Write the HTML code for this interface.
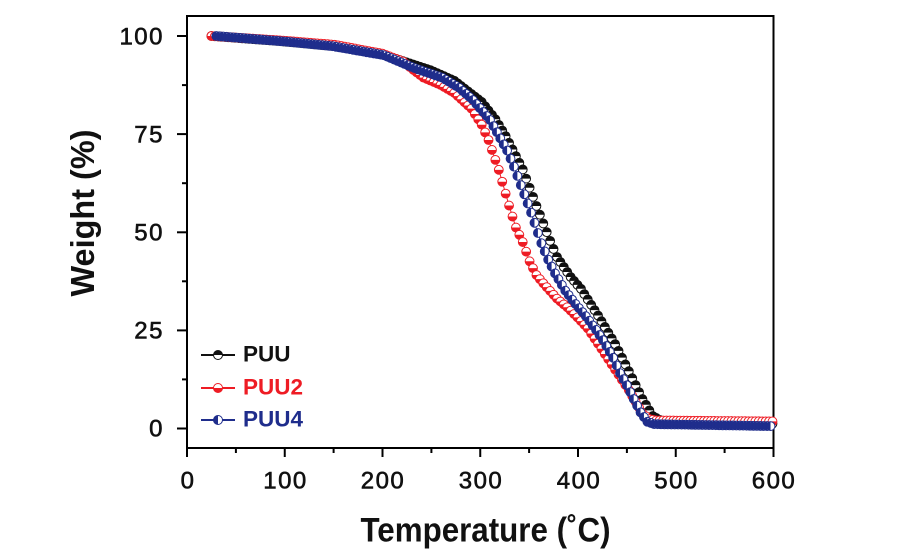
<!DOCTYPE html>
<html>
<head>
<meta charset="utf-8">
<style>
html,body{margin:0;padding:0;background:#fff;}
svg{display:block;}
text{font-family:"Liberation Sans",Arial,sans-serif;}
</style>
</head>
<body>
<svg width="900" height="550" viewBox="0 0 900 550" xmlns="http://www.w3.org/2000/svg">
<defs>
  <marker id="m0" markerWidth="10" markerHeight="10" refX="5" refY="5" markerUnits="userSpaceOnUse" overflow="visible">
    <circle cx="5" cy="5" r="4.4" fill="#fff" stroke="#111" stroke-width="1"/>
    <path d="M0.6 5 A4.4 4.4 0 0 1 9.4 5 Z" fill="#111"/>
  </marker>
  <marker id="m1" markerWidth="10" markerHeight="10" refX="5" refY="5" markerUnits="userSpaceOnUse" overflow="visible">
    <circle cx="5" cy="5" r="4.4" fill="#fff" stroke="#ee1c24" stroke-width="1"/>
    <path d="M0.6 5 A4.4 4.4 0 0 0 9.4 5 Z" fill="#ee1c24"/>
  </marker>
  <marker id="m2" markerWidth="10" markerHeight="10" refX="5" refY="5" markerUnits="userSpaceOnUse" overflow="visible">
    <circle cx="5" cy="5" r="4.4" fill="#fff" stroke="#1f2d8c" stroke-width="1"/>
    <path d="M5 0.6 A4.4 4.4 0 0 0 5 9.4 Z" fill="#1f2d8c"/>
  </marker>
</defs>

<!-- plot frame -->
<rect x="187" y="16" width="586.5" height="432" fill="none" stroke="#000" stroke-width="2"/>

<!-- y ticks -->
<g stroke="#000" stroke-width="2">
  <line x1="177" y1="36" x2="187" y2="36"/>
  <line x1="177" y1="134.1" x2="187" y2="134.1"/>
  <line x1="177" y1="232.3" x2="187" y2="232.3"/>
  <line x1="177" y1="330.4" x2="187" y2="330.4"/>
  <line x1="177" y1="428.5" x2="187" y2="428.5"/>
  <line x1="182" y1="85.1" x2="187" y2="85.1"/>
  <line x1="182" y1="183.2" x2="187" y2="183.2"/>
  <line x1="182" y1="281.3" x2="187" y2="281.3"/>
  <line x1="182" y1="379.4" x2="187" y2="379.4"/>
</g>
<!-- x ticks -->
<g stroke="#000" stroke-width="2">
  <line x1="187" y1="448" x2="187" y2="457"/>
  <line x1="284.75" y1="448" x2="284.75" y2="457"/>
  <line x1="382.5" y1="448" x2="382.5" y2="457"/>
  <line x1="480.25" y1="448" x2="480.25" y2="457"/>
  <line x1="578" y1="448" x2="578" y2="457"/>
  <line x1="675.75" y1="448" x2="675.75" y2="457"/>
  <line x1="773.5" y1="448" x2="773.5" y2="457"/>
  <line x1="235.9" y1="448" x2="235.9" y2="453"/>
  <line x1="333.6" y1="448" x2="333.6" y2="453"/>
  <line x1="431.4" y1="448" x2="431.4" y2="453"/>
  <line x1="529.1" y1="448" x2="529.1" y2="453"/>
  <line x1="626.9" y1="448" x2="626.9" y2="453"/>
  <line x1="724.6" y1="448" x2="724.6" y2="453"/>
</g>

<!-- y tick labels -->
<g font-size="24" fill="#111" stroke="#111" stroke-width="0.6" text-anchor="end" letter-spacing="1.5">
  <text x="164" y="44.5">100</text>
  <text x="164" y="142.5">75</text>
  <text x="164" y="240.5">50</text>
  <text x="164" y="338.5">25</text>
  <text x="164" y="436.5">0</text>
</g>
<!-- x tick labels -->
<g font-size="24" fill="#111" stroke="#111" stroke-width="0.6" text-anchor="middle" letter-spacing="1.5">
  <text x="188" y="488.5">0</text>
  <text x="285.5" y="488.5">100</text>
  <text x="383" y="488.5">200</text>
  <text x="481" y="488.5">300</text>
  <text x="579" y="488.5">400</text>
  <text x="676.5" y="488.5">500</text>
  <text x="774" y="488.5">600</text>
</g>

<!-- axis titles -->
<text x="360.5" y="541.5" font-size="34" font-weight="bold" fill="#111" textLength="250" lengthAdjust="spacingAndGlyphs">Temperature (˚C)</text>
<text transform="translate(94,213) rotate(-90)" x="0" y="0" text-anchor="middle" font-size="33" font-weight="bold" fill="#111" textLength="167" lengthAdjust="spacingAndGlyphs">Weight (%)</text>

<!-- PUU (black) -->
<path fill="none" stroke="#111" stroke-width="1" marker-start="url(#m0)" marker-mid="url(#m0)" marker-end="url(#m0)" d="M211.44 36 l
3.421 .255 3.421 .255 3.421 .255 3.421 .255 3.421 .255
3.421 .255 3.421 .255 3.421 .255 3.421 .255 3.421 .255
3.421 .255 3.421 .255 3.421 .255 3.421 .255 3.421 .255
3.421 .255 3.421 .255 3.421 .255 3.421 .255 3.421 .255
3.421 .319 3.421 .319 3.421 .319 3.421 .319
3.421 .319 3.421 .319 3.421 .319 3.421 .319
3.421 .319 3.421 .319 3.421 .319 3.421 .319
3.421 .319 3.421 .319 3.421 .319 3.421 .319
3.421 .589 3.421 .589 3.421 .589 3.421 .589 3.421 .589 3.421 .589 3.421 .589
3.421 .589 3.421 .589 3.421 .589 3.421 .589 3.421 .589 3.421 .589 3.421 .589
3.421 1.121 3.421 1.121 3.421 1.121 3.421 1.121 3.421 1.121 3.421 1.121 3.421 1.121
3.421 1.121 3.421 1.121 3.421 1.121 3.421 1.121 3.421 1.121 3.421 1.121 3.421 1.121
3.421 1.514 3.421 1.514 3.421 1.514 3.421 1.514 3.421 1.514 3.421 1.514 3.421 1.514
3.421 2.65 3.421 2.65 3.421 2.65 3.421 2.65 3.421 2.65 3.421 2.65 3.421 2.65 3.421 2.65
3.421 4.32 3.421 4.32 3.421 4.32 3.421 4.32
3.421 5.63 3.421 5.63 3.421 5.63
3.421 6.67 3.421 6.67 3.421 6.67 3.421 6.67 3.421 6.67
3.421 9.13 3.421 9.13 3.421 9.13 3.421 9.13
3.421 8.73 3.421 8.73 3.421 8.73 3.421 8.73
3.421 8.05 3.421 8.05
3.421 5 3.421 5 3.421 5 3.421 5
3.421 3.925 3.421 3.925 3.421 3.925
3.421 5.34 3.421 5.34 3.421 5.34 3.421 5.34 3.421 5.34
3.421 5.73 3.421 5.73 3.421 5.73 3.421 5.73 3.421 5.73
3.421 6.77 3.421 6.77 3.421 6.77 3.421 6.77
3.421 6.97 3.421 6.97 3.421 6.97 3.421 6.97
3.421 5.63 3.421 5.63 3.421 5.63
3.421 1.96 3.421 1.96 3.421 1.96
3.421 .061 3.421 .061 3.421 .061 3.421 .061 3.421 .061 3.421 .061 3.421 .061 3.421 .061
3.421 .061 3.421 .061 3.421 .061 3.421 .061 3.421 .061 3.421 .061 3.421 .061 3.421 .061
3.421 .061 3.421 .061 3.421 .061 3.421 .061 3.421 .061 3.421 .061 3.421 .061 3.421 .061
3.421 .061 3.421 .061 3.421 .061 3.421 .061 3.421 .061 3.421 .061 3.421 .061 3.421 .061"/>

<!-- PUU2 (red) -->
<path fill="none" stroke="#ee1c24" stroke-width="1" marker-start="url(#m1)" marker-mid="url(#m1)" marker-end="url(#m1)" d="M211.44 36 l
3.421 .219 3.421 .219 3.421 .219 3.421 .219 3.421 .219 3.421 .219 3.421 .219
3.421 .219 3.421 .219 3.421 .219 3.421 .219 3.421 .219 3.421 .219 3.421 .219
3.421 .219 3.421 .219 3.421 .219 3.421 .219 3.421 .219 3.421 .219 3.421 .219
3.421 .277 3.421 .277 3.421 .277 3.421 .277 3.421 .277
3.421 .277 3.421 .277 3.421 .277 3.421 .277 3.421 .277
3.421 .277 3.421 .277 3.421 .277 3.421 .277 3.421 .277
3.421 .637 3.421 .637 3.421 .637 3.421 .637 3.421 .637 3.421 .637 3.421 .637
3.421 .637 3.421 .637 3.421 .637 3.421 .637 3.421 .637 3.421 .637 3.421 .637
3.421 1.308 3.421 1.308 3.421 1.308 3.421 1.308 3.421 1.308 3.421 1.308
3.421 2.748 3.421 2.748 3.421 2.748
3.421 2.617 3.421 2.617 3.421 2.617
3.421 1.452 3.421 1.452 3.421 1.452 3.421 1.452 3.421 1.452
3.421 2.012 3.421 2.012 3.421 2.012 3.421 2.012
3.421 3.14 3.421 3.14 3.421 3.14 3.421 3.14 3.421 3.14
3.421 5.36 3.421 5.36 3.421 5.36
3.421 7.65 3.421 7.65
3.421 9.94 3.421 9.94 3.421 9.94
3.421 11.91 3.421 11.91 3.421 11.91
3.421 10.99 3.421 10.99
3.421 7.26 3.421 7.26
3.421 9.62 3.421 9.62
3.421 6.87 3.421 6.87
3.421 4.12 3.421 4.12
3.421 3.83 3.421 3.83 3.421 3.83 3.421 3.83
3.421 2.878 3.421 2.878 3.421 2.878
3.421 3.4 3.421 3.4 3.421 3.4
3.421 3.66 3.421 3.66 3.421 3.66
3.421 5.1 3.421 5.1 3.421 5.1 3.421 5.1
3.421 5.2 3.421 5.2 3.421 5.2 3.421 5.2
3.421 5.1 3.421 5.1 3.421 5.1 3.421 5.1
3.421 5.89 3.421 5.89 3.421 5.89 3.421 5.89
3.421 2.75 3.421 2.75
3.421 .687 3.421 .687
3.421 .029 3.421 .029 3.421 .029 3.421 .029 3.421 .029 3.421 .029 3.421 .029 3.421 .029 3.421 .029 3.421 .029 3.421 .029 3.421 .029 3.421 .029 3.421 .029 3.421 .029 3.421 .029 3.421 .029
3.421 .029 3.421 .029 3.421 .029 3.421 .029 3.421 .029 3.421 .029 3.421 .029 3.421 .029 3.421 .029 3.421 .029 3.421 .029 3.421 .029 3.421 .029 3.421 .029 3.421 .029 3.421 .029 3.421 .029"/>

<!-- PUU4 (blue) -->
<path fill="none" stroke="#1f2d8c" stroke-width="1" marker-start="url(#m2)" marker-mid="url(#m2)" marker-end="url(#m2)" d="M216.33 36 l
3.421 .275 3.421 .275 3.421 .275 3.421 .275 3.421 .275
3.421 .275 3.421 .275 3.421 .275 3.421 .275 3.421 .275
3.421 .275 3.421 .275 3.421 .275 3.421 .275 3.421 .275
3.421 .275 3.421 .275 3.421 .275 3.421 .275 3.421 .275
3.421 .336 3.421 .336 3.421 .336 3.421 .336 3.421 .336 3.421 .336 3.421 .336
3.421 .336 3.421 .336 3.421 .336 3.421 .336 3.421 .336 3.421 .336 3.421 .336
3.421 .602 3.421 .602 3.421 .602 3.421 .602 3.421 .602
3.421 .602 3.421 .602 3.421 .602 3.421 .602 3.421 .602
3.421 .602 3.421 .602 3.421 .602 3.421 .602 3.421 .602
3.421 1.44 3.421 1.44 3.421 1.44 3.421 1.44 3.421 1.44 3.421 1.44 3.421 1.44 3.421 1.44 3.421 1.44
3.421 1.178 3.421 1.178 3.421 1.178 3.421 1.178 3.421 1.178 3.421 1.178 3.421 1.178 3.421 1.178
3.421 2.04 3.421 2.04 3.421 2.04 3.421 2.04 3.421 2.04
3.421 3.04 3.421 3.04 3.421 3.04 3.421 3.04
3.421 4 3.421 4 3.421 4 3.421 4 3.421 4
3.421 6.12 3.421 6.12 3.421 6.12 3.421 6.12 3.421 6.12
3.421 8.05 3.421 8.05
3.421 9.22 3.421 9.22
3.421 9.16 3.421 9.16 3.421 9.16
3.421 10.2 3.421 10.2 3.421 10.2
3.421 8.24 3.421 8.24
3.421 6.87 3.421 6.87
3.421 5.76 3.421 5.76 3.421 5.76
3.421 4.45 3.421 4.45 3.421 4.45
3.421 4.05 3.421 4.05 3.421 4.05
3.421 4.58 3.421 4.58 3.421 4.58
3.421 5.1 3.421 5.1
3.421 5.89 3.421 5.89 3.421 5.89
3.421 7.65 3.421 7.65
3.421 6.08 3.421 6.08
3.421 6.87 3.421 6.87
3.421 6.67 3.421 6.67
3.421 4.71 3.421 4.71
3.421 1.18 3.421 1.18
3.421 .058 3.421 .058 3.421 .058 3.421 .058 3.421 .058 3.421 .058 3.421 .058 3.421 .058 3.421 .058 3.421 .058 3.421 .058 3.421 .058 3.421 .058 3.421 .058 3.421 .058 3.421 .058 3.421 .058
3.421 .058 3.421 .058 3.421 .058 3.421 .058 3.421 .058 3.421 .058 3.421 .058 3.421 .058 3.421 .058 3.421 .058 3.421 .058 3.421 .058 3.421 .058 3.421 .058 3.421 .058 3.421 .058 3.421 .058"/>

<!-- legend -->
<g>
  <line x1="201" y1="355" x2="235" y2="355" stroke="#111" stroke-width="2"/>
  <circle cx="218" cy="355" r="4.5" fill="#fff" stroke="#111" stroke-width="1"/>
  <path d="M213.5 355 A4.5 4.5 0 0 1 222.5 355 Z" fill="#111"/>
  <text x="243" y="361.5" font-size="22.5" font-weight="bold" fill="#111">PUU</text>

  <line x1="201" y1="388" x2="235" y2="388" stroke="#ee1c24" stroke-width="2"/>
  <circle cx="218" cy="388" r="4.5" fill="#fff" stroke="#ee1c24" stroke-width="1"/>
  <path d="M213.5 388 A4.5 4.5 0 0 0 222.5 388 Z" fill="#ee1c24"/>
  <text x="243" y="394.5" font-size="22.5" font-weight="bold" fill="#ee1c24">PUU2</text>

  <line x1="201" y1="420" x2="235" y2="420" stroke="#1f2d8c" stroke-width="2"/>
  <circle cx="218" cy="420" r="4.5" fill="#fff" stroke="#1f2d8c" stroke-width="1"/>
  <path d="M218 415.5 A4.5 4.5 0 0 0 218 424.5 Z" fill="#1f2d8c"/>
  <text x="243" y="426.5" font-size="22.5" font-weight="bold" fill="#1f2d8c">PUU4</text>
</g>
</svg>
</body>
</html>
